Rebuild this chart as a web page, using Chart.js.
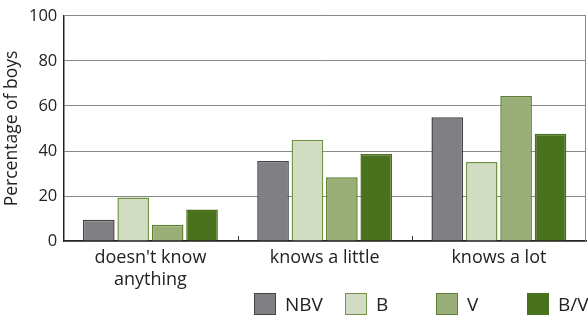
<!DOCTYPE html>
<html lang="en">
<head>
    <meta charset="UTF-8">
    <title>Percentage of boys</title>
    <script src="https://cdn.jsdelivr.net/npm/chart.js"></script>
    <style>
        html, body { margin: 0; padding: 0; background: #fff; overflow: hidden; }
        #chart-container { position: relative; width: 588px; height: 318px; }
        /* legend sits under the x labels, evenly spaced like the original */
        #legend {
            position: absolute;
            left: 254px;
            top: 293px;
            width: 364px;
            display: flex;
            font-family: 'Open Sans', 'Noto Sans', sans-serif;
            font-size: 19px;
            color: #222;
            white-space: nowrap;
        }
        #legend .item { width: 91px; flex: none; display: flex; align-items: center; height: 22px; }
        #legend .box { width: 20px; height: 20px; border: 1px solid; margin-right: 9px; flex: none; }
    </style>
</head>
<body>
    <div id="chart-container">
        <canvas id="boysChart"></canvas>
        <div id="legend"></div>
    </div>

    <script>
        // data
        const categories = [["doesn't know", "anything"], "knows a little", "knows a lot"];
        const nbv = [9.5, 35.6, 55.0];
        const b = [19.4, 45.0, 35.1];
        const v = [7.2, 28.4, 64.4];
        const bv = [14.0, 38.7, 47.7];
        const yTicks = [0, 20, 40, 60, 80, 100];

        const fontFamily = "'Open Sans', 'Noto Sans', sans-serif";

        // right border + small upward ticks between categories
        const frame = {
            id: 'frame',
            afterDraw(chart) {
                const { ctx, chartArea: a, scales } = chart;
                ctx.save();
                ctx.strokeStyle = '#888';
                ctx.lineWidth = 1;
                ctx.beginPath();
                ctx.moveTo(a.right - 0.5, a.top);
                ctx.lineTo(a.right - 0.5, a.bottom);
                ctx.stroke();
                ctx.strokeStyle = '#333';
                const x = scales.x;
                for (let i = 1; i < categories.length; i++) {
                    const px = Math.round((x.getPixelForValue(i - 1) + x.getPixelForValue(i)) / 2) + 0.5;
                    ctx.beginPath();
                    ctx.moveTo(px, a.bottom);
                    ctx.lineTo(px, a.bottom - 5);
                    ctx.stroke();
                }
                ctx.restore();
            }
        };

        const ds = (label, data, fill, border) => ({
            label, data,
            backgroundColor: fill,
            borderColor: border,
            borderWidth: 1.5,
            categoryPercentage: 0.79,
            barPercentage: 0.92
        });

        const chart = new Chart(document.getElementById('boysChart'), {
            type: 'bar',
            data: {
                labels: categories,
                datasets: [
                    ds('NBV', nbv, '#808084', '#444446'),
                    ds('B', b, '#d2dcc2', '#6e9444'),
                    ds('V', v, '#9aae78', '#5d7f30'),
                    ds('B/V', bv, '#4a711d', '#4a711d')
                ]
            },
            options: {
                responsive: true,
                maintainAspectRatio: false,
                animation: false,
                layout: { padding: { left: 0, right: 2, top: 8, bottom: 29 } },
                plugins: {
                    tooltip: { enabled: false },
                    legend: { display: false }
                },
                scales: {
                    x: {
                        grid: { display: false },
                        border: { color: '#222', width: 1.5 },
                        ticks: {
                            color: '#222',
                            padding: -2,
                            maxRotation: 0,
                            font: { family: fontFamily, size: 18, lineHeight: 1.22 }
                        }
                    },
                    y: {
                        min: 0,
                        max: 100,
                        afterBuildTicks: (scale) => { scale.ticks = yTicks.map(t => ({ value: t })); },
                        grid: { color: '#888', lineWidth: 1, drawTicks: false },
                        border: { color: '#222', width: 1.5 },
                        ticks: {
                            color: '#222',
                            padding: 6,
                            font: { family: fontFamily, size: 16.5 }
                        },
                        title: {
                            display: true,
                            text: 'Percentage of boys',
                            color: '#222',
                            padding: { top: 2, bottom: 0 },
                            font: { family: fontFamily, size: 17.5 }
                        }
                    }
                }
            },
            plugins: [frame]
        });

        // html legend built from the datasets
        const legend = document.getElementById('legend');
        chart.data.datasets.forEach(d => {
            legend.innerHTML += `
                <div class="item">
                    <span class="box" style="background:${d.backgroundColor};border-color:${d.borderColor}"></span>
                    <span>${d.label}</span>
                </div>`;
        });
    </script>
</body>
</html>
